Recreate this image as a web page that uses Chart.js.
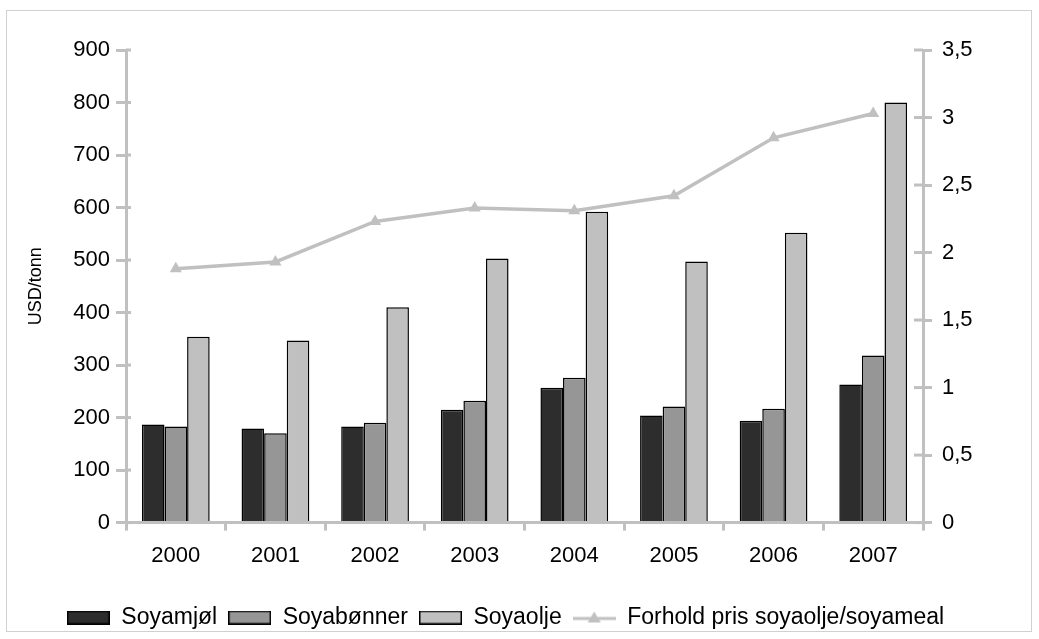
<!DOCTYPE html>
<html>
<head>
<meta charset="utf-8">
<script src="https://cdn.jsdelivr.net/npm/chart.js@4.4.1/dist/chart.umd.min.js"></script>
<style>
  html, body { margin: 0; padding: 0; background: #fff; }
  #wrap { width: 1039px; height: 639px; position: relative; }
</style>
</head>
<body>
<div id="wrap"><canvas id="soyaChart" width="1039" height="639"></canvas></div>
<script>
const years = ['2000', '2001', '2002', '2003', '2004', '2005', '2006', '2007'];
const soyamjol = [187, 179, 183, 215, 257, 204, 194, 263];
const soyabonner = [183, 170, 190, 232, 276, 221, 217, 318];
const soyaolje = [354, 347, 410, 503, 592, 497, 552, 800];
const forhold = [1.88, 1.93, 2.23, 2.33, 2.31, 2.42, 2.85, 3.03];

const axisGrey = '#c0c0c0';
const fontFamily = '"Liberation Sans", Arial, sans-serif';
Chart.defaults.font.family = fontFamily;
Chart.defaults.color = '#000';

// legend symbols drawn on small canvases
function boxIcon(fill) {
    const c = document.createElement('canvas');
    c.width = 43; c.height = 14;
    const g = c.getContext('2d');
    g.fillStyle = fill;
    g.fillRect(0, 0, 43, 14);
    g.strokeStyle = '#000';
    g.lineWidth = 1.5;
    g.strokeRect(0.75, 0.75, 41.5, 12.5);
    return c;
}
function lineIcon() {
    const c = document.createElement('canvas');
    c.width = 43; c.height = 14;
    const g = c.getContext('2d');
    g.strokeStyle = axisGrey;
    g.lineWidth = 3;
    g.beginPath(); g.moveTo(0, 8); g.lineTo(43, 8); g.stroke();
    g.fillStyle = axisGrey;
    g.beginPath(); g.moveTo(21.5, 1); g.lineTo(28, 12); g.lineTo(15, 12); g.closePath(); g.fill();
    return c;
}

// outer frame + tick marks that cross the value axes
const frame = {
    id: 'frame',
    beforeDraw(chart) {
        const ctx = chart.ctx;
        ctx.save();
        ctx.strokeStyle = '#d0d0d0';
        ctx.lineWidth = 1;
        ctx.strokeRect(6.5, 10.5, 1025, 621);
        ctx.restore();
    },
    afterDraw(chart) {
        const ctx = chart.ctx;
        ctx.save();
        ctx.strokeStyle = axisGrey;
        ctx.lineWidth = 3;
        const y = chart.scales.y, y1 = chart.scales.y1;
        y.ticks.forEach(t => {
            const py = y.getPixelForValue(t.value);
            ctx.beginPath(); ctx.moveTo(y.right, py); ctx.lineTo(y.right + 5, py); ctx.stroke();
        });
        y1.ticks.forEach(t => {
            const py = y1.getPixelForValue(t.value);
            ctx.beginPath(); ctx.moveTo(y1.left - 9, py); ctx.lineTo(y1.left, py); ctx.stroke();
        });
        ctx.restore();
    },
    afterLayout(chart) {
        const lg = chart.legend;
        lg.left -= 14;
        lg.right -= 14;
    }
};

const ctx = document.getElementById('soyaChart').getContext('2d');
const soyaChart = new Chart(ctx, {
    data: {
        labels: years,
        datasets: [
            {
                type: 'line',
                label: 'Forhold pris soyaolje/soyameal',
                data: forhold,
                yAxisID: 'y1',
                borderColor: axisGrey,
                backgroundColor: axisGrey,
                borderWidth: 3.5,
                pointStyle: 'triangle',
                pointRadius: 7,
                pointBorderWidth: 0,
                tension: 0,
                order: 0
            },
            {
                type: 'bar',
                label: 'Soyamjøl',
                data: soyamjol,
                yAxisID: 'y',
                backgroundColor: '#2d2d2d',
                borderColor: '#000',
                borderWidth: 1.5,
                order: 1
            },
            {
                type: 'bar',
                label: 'Soyabønner',
                data: soyabonner,
                yAxisID: 'y',
                backgroundColor: '#969696',
                borderColor: '#000',
                borderWidth: 1.5,
                order: 1
            },
            {
                type: 'bar',
                label: 'Soyaolje',
                data: soyaolje,
                yAxisID: 'y',
                backgroundColor: '#c0c0c0',
                borderColor: '#000',
                borderWidth: 1.5,
                order: 1
            }
        ]
    },
    options: {
        responsive: false,
        animation: false,
        layout: { padding: { top: 50, bottom: 0, left: 0, right: 0 } },
        datasets: { bar: { barPercentage: 1, categoryPercentage: 0.68 } },
        plugins: {
            tooltip: { enabled: false },
            legend: {
                position: 'bottom',
                labels: {
                    usePointStyle: true,
                    pointStyleWidth: 43,
                    font: { size: 23 },
                    color: '#000',
                    padding: 11,
                    generateLabels(chart) {
                        const order = [1, 2, 3, 0];
                        return order.map(i => {
                            const ds = chart.data.datasets[i];
                            return {
                                text: ds.label,
                                datasetIndex: i,
                                pointStyle: i === 0 ? lineIcon() : boxIcon(ds.backgroundColor),
                                fillStyle: ds.backgroundColor,
                                strokeStyle: ds.borderColor,
                                lineWidth: 0,
                                hidden: false
                            };
                        });
                    }
                }
            }
        },
        scales: {
            x: {
                offset: true,
                afterFit(scale) { scale.height += 14; },
                grid: { offset: true, drawOnChartArea: false, color: axisGrey, tickColor: axisGrey, tickLength: 8, lineWidth: 3 },
                border: { color: axisGrey, width: 3 },
                ticks: { font: { size: 22 }, color: '#000', padding: 12 }
            },
            y: {
                position: 'left',
                min: 0, max: 900,
                afterFit(scale) { scale.width = 126; },
                grid: { drawOnChartArea: false, color: axisGrey, tickColor: axisGrey, tickLength: 10, lineWidth: 3 },
                border: { color: axisGrey, width: 3 },
                ticks: { stepSize: 100, font: { size: 22 }, color: '#000', padding: 6 },
                title: { display: true, text: 'USD/tonn', font: { size: 18 }, color: '#000', padding: { top: 25, bottom: 0 } }
            },
            y1: {
                position: 'right',
                min: 0, max: 3.5,
                afterFit(scale) { scale.width = 116; },
                grid: { drawOnChartArea: false, color: axisGrey, tickColor: axisGrey, tickLength: 9, lineWidth: 3 },
                border: { color: axisGrey, width: 3 },
                ticks: {
                    stepSize: 0.5, font: { size: 22 }, color: '#000', padding: 10,
                    callback: v => String(v).replace('.', ',')
                }
            }
        }
    },
    plugins: [frame]
});
</script>
</body>
</html>
